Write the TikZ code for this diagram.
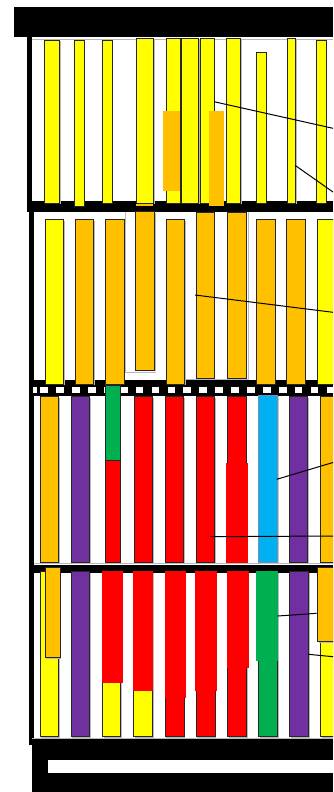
\documentclass[tikz,border=0pt]{standalone}
\definecolor{cy}{HTML}{FFFF00}
\definecolor{co}{HTML}{FFC000}
\definecolor{cr}{HTML}{FF0000}
\definecolor{cp}{HTML}{7030A0}
\definecolor{cg}{HTML}{00B050}
\definecolor{cb}{HTML}{00B0F0}
\definecolor{cbb}{HTML}{6F8FC0}
\newcommand{\colbar}[5]{%
  \fill[gray!55,shift={(1.3,1.3)}] (#1,#2) rectangle (#3,#4);
  \filldraw[fill=#5,draw=black!85,line width=0.9pt] (#1,#2) rectangle (#3,#4);}
\newcommand{\colfill}[5]{\fill[#5] (#1,#2) rectangle (#3,#4);}
\tikzset{callout/.style={draw=black,line width=1pt},
  faint/.style={draw=gray!55,line width=0.6pt}}
\begin{document}
\begin{tikzpicture}[x=1pt,y=-1pt]
\useasboundingbox (0,0) rectangle (333,792);
\clip (0,0) rectangle (333,792);
\fill[white] (0,0) rectangle (333,792);
% frame
\fill[black] (14,7) rectangle (333,37);
\fill[black] (27,37) rectangle (32,210);
\fill[black] (27,201) rectangle (333,212);
\fill[black] (29,210) rectangle (34,745);
\fill[black] (29,380) rectangle (333,396);
\fill[white] (33,387) rectangle (37,393);
\foreach \k in {0,...,18} \fill[white] ({40.3+15.9*\k},387) rectangle ({48+15.9*\k},393);
\fill[black] (29,565) rectangle (333,573);
\fill[black] (31.7,739) rectangle (333,792);
\fill[white] (48.3,760) rectangle (333,773.3);
\draw[faint] (32,39.5) -- (333,39.5);
\draw[faint] (34,563.2) -- (333,563.2);
\draw[faint] (32,738.6) -- (333,738.6);
\draw[faint] (125,212) -- (125,372) -- (156,372);
\draw[faint] (184,379.2) -- (248,379.2) -- (248,212);
% section 1
\colbar{44.3}{40}{59.3}{203}{cy}
\colbar{74.3}{40}{84}{206}{cy}
\colbar{102.3}{40}{112}{203}{cy}
\colbar{136}{38}{153.3}{203}{cy}
\colbar{166}{38}{180}{203}{cy}
\colbar{181.7}{38}{198.7}{203}{cy}
\colbar{200}{38}{214}{203}{cy}
\colbar{226.7}{38}{240.3}{203}{cy}
\colbar{256.3}{52}{266}{203}{cy}
\colbar{287}{38}{295.3}{203}{cy}
\colbar{316.3}{40}{326}{203}{cy}
\colfill{163.3}{111}{180}{191}{co}
\colfill{209}{111}{224}{205.7}{co}
\colfill{136}{204.3}{153.3}{205.5}{co}
\draw[callout] (214,101.7) -- (333,128.3);
\draw[callout] (295.3,165.5) -- (333,192);
% section 2
\colbar{45}{219.3}{63.3}{384}{cy}
\colbar{75}{219.3}{93.3}{384}{co}
\colbar{105}{219.3}{124}{384}{co}
\colbar{135}{211.7}{154.3}{370}{co}
\colbar{166}{219.3}{184.3}{384}{co}
\colbar{196.7}{212.7}{214}{378.3}{co}
\colbar{227.3}{212.7}{246}{378.3}{co}
\colbar{256.7}{219.3}{275}{384}{co}
\colbar{286.7}{219.3}{305}{384}{co}
\colbar{317.3}{219.3}{340}{384}{cy}
\draw[callout] (195,295) -- (333,312.3);
% section 3
\colbar{40}{396.7}{58.3}{562.3}{co}
\colbar{71}{396.7}{89.3}{562.3}{cp}
\colbar{105}{385}{120}{460}{cg}
\colbar{105}{460}{120}{562.3}{cr}
\colbar{134}{396.7}{152.3}{562.3}{cr}
\colbar{165}{396.7}{183.3}{562.3}{cr}
\colbar{196}{396.7}{214.3}{562.3}{cr}
\colbar{227.3}{396.7}{246}{562.3}{cr}
\colfill{226}{462.7}{247.7}{563.3}{cr}
\fill[gray!45,shift={(1.3,1.3)}] (258.3,395) rectangle (277.7,562.3);
\filldraw[fill=cb,draw=cbb,line width=1pt] (258.3,395) rectangle (277.7,562.3);
\colbar{289.3}{396.7}{307.7}{562.3}{cp}
\colbar{320.7}{396.7}{340}{562.3}{co}
\draw[callout] (276.7,479.3) -- (333,462.5);
\draw[callout] (210,536.7) -- (333,536);
% section 4
\colbar{40}{571.7}{58.3}{736.7}{cy}
\colbar{45}{567.3}{60}{657.7}{co}
\colbar{71}{571.7}{89.3}{736.7}{cp}
\colbar{102.3}{571.7}{120.7}{736.7}{cy}
\colfill{101.7}{571}{123.3}{683.3}{cr}
\colbar{133.3}{571.7}{152.3}{736.7}{cy}
\colfill{132.7}{571}{153.3}{691}{cr}
\colbar{165}{571.7}{184}{736.7}{cr}
\colfill{165}{571}{186}{698.3}{cr}
\colbar{196}{571.7}{215}{736.7}{cr}
\colfill{195}{571}{216.7}{691}{cr}
\colbar{227.3}{571.7}{246.7}{736.7}{cr}
\colfill{227.3}{571}{249}{668.3}{cr}
\colbar{258.3}{571.7}{277.3}{736.7}{cg}
\colfill{256}{571}{278.3}{661}{cg}
\colbar{289.3}{571.7}{308.3}{736.7}{cp}
\colbar{320.7}{571.7}{340}{736.7}{cy}
\colbar{317.3}{567.3}{340}{641.7}{co}
\draw[callout] (277.7,616) -- (316.7,613.3);
\draw[callout] (308.3,654.3) -- (333,656.7);
\end{tikzpicture}
\end{document}
